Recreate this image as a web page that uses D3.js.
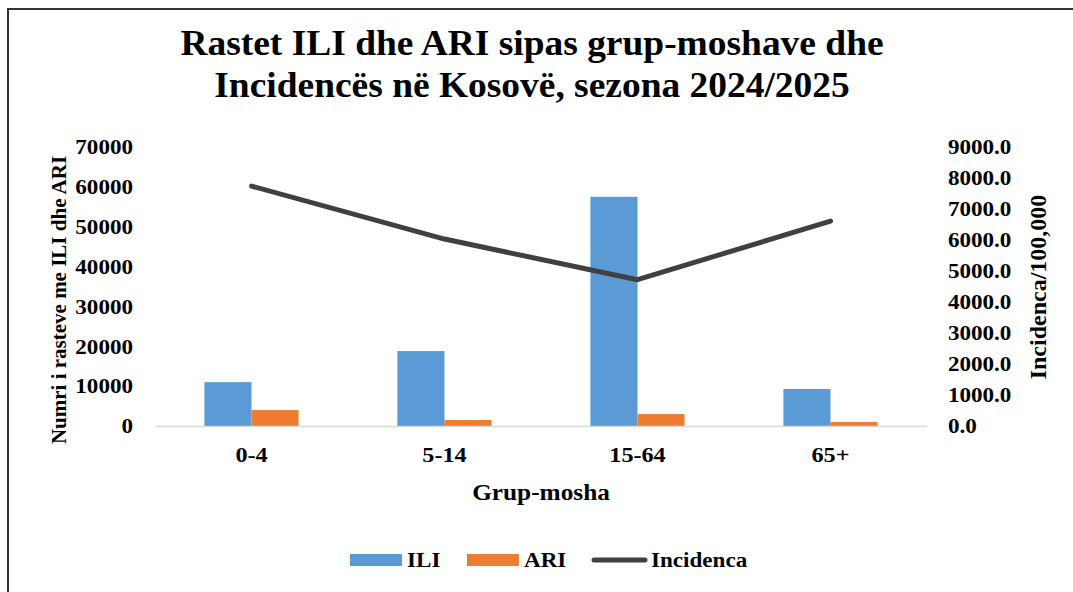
<!DOCTYPE html>
<html>
<head>
<meta charset="utf-8">
<script src="https://cdn.jsdelivr.net/npm/d3@7"></script>
<style>
  body { margin: 0; background: #fff; }
  svg text { font-family: "Liberation Serif", "Times New Roman", serif; font-weight: bold; fill: #000; }
</style>
</head>
<body>
<div id="chart"></div>
<script>
// data
var categories = ["0-4", "5-14", "15-64", "65+"];
var iliValues = [11000, 18800, 57500, 9300];
var ariValues = [4000, 1500, 3000, 1000];
var incidenca = [7740, 6030, 4720, 6610];
var leftTicks = [0, 10000, 20000, 30000, 40000, 50000, 60000, 70000];
var rightTicks = [0, 1000, 2000, 3000, 4000, 5000, 6000, 7000, 8000, 9000];
var seriesNames = ["ILI", "ARI"];
var seriesColors = ["#5B9BD5", "#ED7D31"];
var lineColor = "#404040";

var W = 1073, H = 592;
var SX = 1.1; // text in the picture is a bit wider than tall

var svg = d3.select("#chart").append("svg").attr("width", W).attr("height", H);

// frame (left + top edge)
svg.append("path")
    .attr("d", "M8,592 L8,9 L1073,9")
    .attr("fill", "none")
    .attr("stroke", "#333")
    .attr("stroke-width", 2);

function addText(x, y, str, size, anchor, sx) {
    return svg.append("text")
        .attr("transform", "translate(" + x + "," + y + ") scale(" + (sx || SX) + ",1)")
        .attr("text-anchor", anchor || "middle")
        .style("font-size", size + "px")
        .text(str);
}

// title
addText(532, 55, "Rastet ILI dhe ARI sipas grup-moshave dhe", 35, "middle", 1.07);
addText(532, 97, "Incidencës në Kosovë, sezona 2024/2025", 35, "middle", 1.07);

var plotL = 155, plotR = 927, plotT = 147, plotB = 426;

var x0 = d3.scaleBand().domain(categories).range([plotL, plotR]).padding(0);
var bw = x0.bandwidth();
var x1 = d3.scaleBand().domain(seriesNames).range([bw * 0.256, bw * 0.744]).padding(0);
var yL = d3.scaleLinear().domain([0, 70000]).range([plotB, plotT]);
var yR = d3.scaleLinear().domain([0, 9000]).range([plotB, plotT]);

// bars
var barData = [];
categories.forEach(function(c, i) {
    barData.push({cat: c, s: "ILI", v: iliValues[i], col: seriesColors[0]});
    barData.push({cat: c, s: "ARI", v: ariValues[i], col: seriesColors[1]});
});

svg.append("g").selectAll("rect")
    .data(barData)
    .enter()
    .append("rect")
    .attr("x", function(d) { return x0(d.cat) + x1(d.s); })
    .attr("y", function(d) { return yL(d.v); })
    .attr("width", x1.bandwidth())
    .attr("height", function(d) { return plotB - yL(d.v); })
    .attr("fill", function(d) { return d.col; });

// baseline
svg.append("line")
    .attr("x1", plotL).attr("x2", plotR)
    .attr("y1", plotB + 0.5).attr("y2", plotB + 0.5)
    .attr("stroke", "#d9d9d9")
    .attr("stroke-width", 1.5);

// line series on right axis
var line = d3.line()
    .x(function(d, i) { return x0(categories[i]) + bw / 2; })
    .y(function(d) { return yR(d); });

svg.append("path")
    .datum(incidenca)
    .attr("d", line)
    .attr("fill", "none")
    .attr("stroke", lineColor)
    .attr("stroke-width", 5)
    .attr("stroke-linecap", "round")
    .attr("stroke-linejoin", "round");

// axes
var leftAxis = svg.append("g")
    .attr("transform", "translate(" + plotL + ",0)")
    .call(d3.axisLeft(yL).tickValues(leftTicks).tickSize(0).tickPadding(20).tickFormat(d3.format("d")));
var rightAxis = svg.append("g")
    .attr("transform", "translate(" + plotR + ",0)")
    .call(d3.axisRight(yR).tickValues(rightTicks).tickSize(0).tickPadding(19).tickFormat(d3.format(".1f")));
var bottomAxis = svg.append("g")
    .attr("transform", "translate(0," + plotB + ")")
    .call(d3.axisBottom(x0).tickSize(0).tickPadding(20));

[leftAxis, rightAxis, bottomAxis].forEach(function(a) {
    a.select(".domain").remove();
    a.selectAll("text")
        .style("font-size", "21px")
        .style("font-family", "'Liberation Serif', serif")
        .style("font-weight", "bold")
        .attr("fill", "#000")
        .attr("transform", "scale(" + SX + ",1)");
});
leftAxis.selectAll("text").attr("x", -20);
rightAxis.selectAll("text").attr("x", 19);
bottomAxis.selectAll("text").attr("dy", "0.71em").style("font-size", "22px");

// axis titles
addText(541, 500, "Grup-mosha", 23);

svg.append("text")
    .attr("transform", "translate(66,300) rotate(-90)")
    .attr("text-anchor", "middle")
    .style("font-size", "21px")
    .text("Numri i rasteve me ILI dhe ARI");

svg.append("text")
    .attr("transform", "translate(1046,287) rotate(-90)")
    .attr("text-anchor", "middle")
    .style("font-size", "24px")
    .text("Incidenca/100,000");

// legend
var legY = 560;
svg.append("rect").attr("x", 350).attr("y", legY - 6).attr("width", 52).attr("height", 12).attr("fill", seriesColors[0]);
addText(407, legY + 7, "ILI", 21, "start");
svg.append("rect").attr("x", 467).attr("y", legY - 6).attr("width", 52).attr("height", 12).attr("fill", seriesColors[1]);
addText(524, legY + 7, "ARI", 21, "start");
svg.append("line")
    .attr("x1", 594).attr("x2", 645)
    .attr("y1", legY).attr("y2", legY)
    .attr("stroke", lineColor).attr("stroke-width", 5).attr("stroke-linecap", "round");
addText(651, legY + 7, "Incidenca", 21, "start");
</script>
</body>
</html>
